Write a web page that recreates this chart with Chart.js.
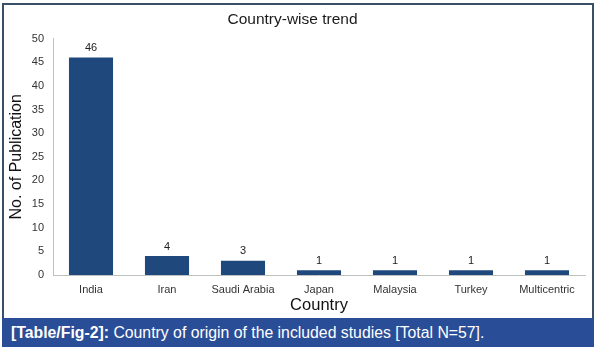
<!DOCTYPE html>
<html>
<head>
<meta charset="utf-8">
<script src="https://cdn.jsdelivr.net/npm/chart.js@4"></script>
<style>
  body { margin: 0; width: 597px; height: 350px; background: #fff; font-family: "Liberation Sans", Arial, sans-serif; position: relative; overflow: hidden; }
  #wrap { position: absolute; left: 0; top: 0; width: 597px; height: 318px; }
  #frame { position: absolute; left: 2px; top: 3px; width: 588px; height: 320px; border: 2px solid #3a5069; border-bottom: none; pointer-events: none; }
  #caption { position: absolute; left: 2px; top: 318px; width: 592px; height: 29px; background: #2a4d97; color: #fff; font-size: 15.8px; line-height: 30px; padding-left: 9px; box-sizing: border-box; }
  #caption b { font-weight: bold; }
</style>
</head>
<body>
<div id="wrap"><canvas id="myChart" width="597" height="318"></canvas></div>
<div id="frame"></div>
<div id="caption"><b>[Table/Fig-2]:</b> Country of origin of the included studies [Total N=57].</div>
<script>
const countries = ['India', 'Iran', 'Saudi Arabia', 'Japan', 'Malaysia', 'Turkey', 'Multicentric'];
const publications = [46, 4, 3, 1, 1, 1, 1];
const yTicks = [0, 5, 10, 15, 20, 25, 30, 35, 40, 45, 50];

// write each bar's count just above it
const valueLabels = {
  id: 'valueLabels',
  afterDatasetsDraw(chart) {
    const ctx = chart.ctx;
    const meta = chart.getDatasetMeta(0);
    ctx.save();
    ctx.font = '11px "Liberation Sans", Arial, sans-serif';
    ctx.fillStyle = '#222';
    ctx.textAlign = 'center';
    ctx.textBaseline = 'bottom';
    meta.data.forEach(function (bar, i) {
      ctx.fillText(publications[i], bar.x, bar.y - 4);
    });
    ctx.restore();
  }
};

chartFunc(countries, publications);

function chartFunc(xValues, yValues) {
  const barColor = '#1f497d';
  const axisColor = '#c0c0c0';
  const myChart = document.getElementById('myChart');
  new Chart(myChart, {
    type: 'bar',
    data: {
      labels: xValues,
      datasets: [{
        backgroundColor: barColor,
        barPercentage: 0.58,
        categoryPercentage: 1,
        data: yValues
      }]
    },
    plugins: [valueLabels],
    options: {
      responsive: false,
      animation: false,
      layout: { padding: { left: 0, right: 12, top: 0, bottom: 0 } },
      plugins: {
        legend: { display: false },
        tooltip: { enabled: false },
        title: {
          display: true,
          text: 'Country-wise trend',
          color: '#1a1a1a',
          font: { family: '"Liberation Sans", Arial, sans-serif', size: 15.5, weight: 'normal' },
          padding: { top: 10, bottom: 10 }
        }
      },
      scales: {
        x: {
          grid: { display: false, drawTicks: false },
          border: { display: true, color: axisColor, width: 1 },
          ticks: {
            color: '#333',
            padding: 8,
            font: { family: '"Liberation Sans", Arial, sans-serif', size: 11 }
          },
          title: {
            display: true,
            text: 'Country',
            color: '#111',
            font: { family: '"Liberation Sans", Arial, sans-serif', size: 16.5 },
            padding: { top: 0, bottom: 3 }
          },
          afterFit: function (scale) { scale.height = 43; }
        },
        y: {
          min: 0,
          max: 50,
          grid: { display: false, drawTicks: false },
          border: { display: true, color: axisColor, width: 1 },
          afterBuildTicks: function (scale) {
            scale.ticks = yTicks.map(v => ({ value: v }));
          },
          ticks: {
            color: '#333',
            padding: 9,
            font: { family: '"Liberation Sans", Arial, sans-serif', size: 11 }
          },
          title: {
            display: true,
            text: 'No. of Publication',
            color: '#111',
            font: { family: '"Liberation Sans", Arial, sans-serif', size: 16 },
            padding: { top: 7, bottom: 0 }
          },
          afterFit: function (scale) { scale.width = 53; }
        }
      }
    }
  });
}
</script>
</body>
</html>
